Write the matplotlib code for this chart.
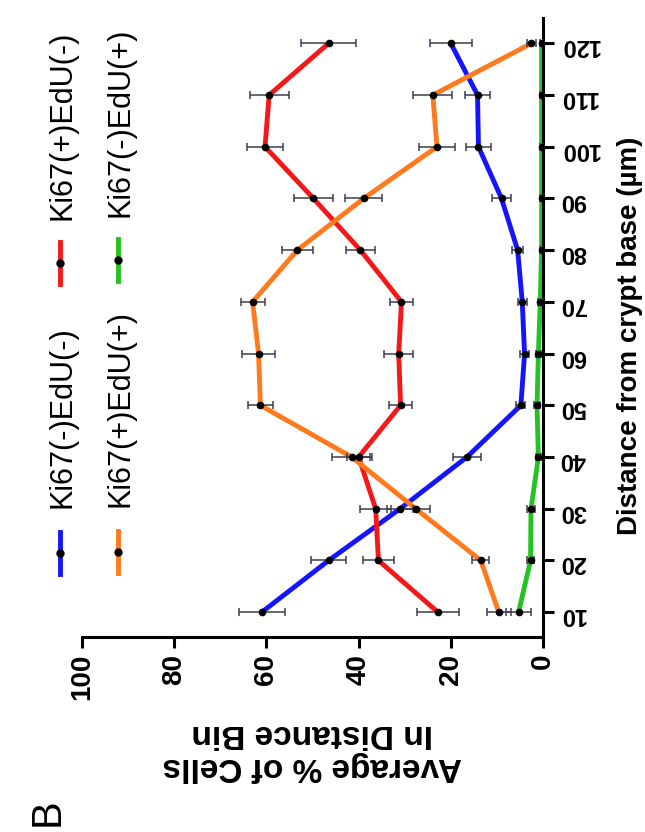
import numpy as np
import matplotlib
matplotlib.use("Agg")
import matplotlib.pyplot as plt

plt.rcParams['font.family'] = ['Liberation Sans', 'DejaVu Sans']

# distance bins (um) and average % of cells per bin
distance = [10, 20, 30, 40, 50, 60, 70, 80, 90, 100, 110, 120]

neg_neg = [61, 46.5, 31, 16.5, 4.8, 4, 4.5, 5.5, 9, 14, 14.2, 20]
pos_neg = [22.8, 35.7, 36.3, 40, 30.9, 31.3, 30.7, 39.6, 49.8, 60.3, 59.4, 46.5]
pos_pos = [9.6, 13.5, 27.6, 41.5, 61.3, 61.7, 63, 53.3, 38.9, 23, 23.9, 2.5]
neg_pos = [5.3, 2.7, 2.6, 1.0, 1.3, 1.0, 0.6, 0.3, 0.3, 0.3, 0.3, 0.3]

err_neg_neg = [5, 3.8, 2.9, 3.1, 1, 1, 1, 1.2, 2, 2.7, 2.7, 4.5]
err_pos_neg = [4.5, 3.4, 3.3, 2.5, 2.5, 3.1, 2.4, 3.1, 4.2, 4, 4.2, 6]
err_pos_pos = [2.6, 1.8, 3, 4.3, 2.7, 3.6, 2.6, 3.4, 4, 4, 4.2, 1]
err_neg_pos = [2.8, 0.8, 0.8, 0.6, 0.6, 0.5, 0.5, 0.4, 0.4, 0.4, 0.4, 0.4]

labels = ["Ki67(-)EdU(-)", "Ki67(+)EdU(-)", "Ki67(+)EdU(+)", "Ki67(-)EdU(+)"]
colors = ["#1414ff", "#f51818", "#ff7a1c", "#22c322"]

W, H = 645, 832
fig = plt.figure(figsize=(W / 100, H / 100), dpi=100)

# chart is drawn turned on its side: % runs right-to-left, distance upward
ax = fig.add_axes([82 / W, 1 - 637 / H, (543 - 82) / W, (637 - 18) / H])

series = [(neg_neg, err_neg_neg), (pos_neg, err_pos_neg),
          (pos_pos, err_pos_pos), (neg_pos, err_neg_pos)]
for (vals, errs), c in zip(series, colors):
    ax.plot(vals, distance, color=c, lw=3.5, solid_capstyle='round', zorder=2)
for (vals, errs), c in zip(series, colors):
    ax.errorbar(vals, distance, xerr=errs, fmt='o', color='k', ms=4.5,
                ecolor='#3c3c50', elinewidth=1.1, capsize=3, capthick=1.1,
                zorder=3)

ax.set_xlim(100, 0)
ax.set_ylim(5.2, 124.9)
ax.set_xticks([0, 20, 40, 60, 80, 100])
ax.set_yticks(distance)
ax.yaxis.tick_right()
for s in ['top', 'left']:
    ax.spines[s].set_visible(False)
for s in ['bottom', 'right']:
    ax.spines[s].set_linewidth(2.2)
ax.tick_params(axis='both', width=2.2, length=8, direction='out')
ax.tick_params(axis='x', labelsize=20, pad=4)
ax.tick_params(axis='y', labelsize=17, pad=4)
for t in ax.get_xticklabels():
    t.set_rotation(90)
    t.set_fontweight('bold')
for t in ax.get_yticklabels():
    t.set_rotation(180)
    t.set_fontweight('bold')

ax.set_xlabel("Average % of Cells\nIn Distance Bin", fontsize=24,
              fontweight='bold', rotation=180, va='center', ha='center',
              linespacing=1.1)
ax.xaxis.set_label_coords(0.5, (637 - 750) / 619)
ax.set_ylabel("Distance from crypt base (\u00b5m)", fontsize=20,
              fontweight='bold', rotation=90, va='center', ha='center')
ax.yaxis.set_label_position('right')
ax.yaxis.set_label_coords((617 - 82) / 461, (637 - 336) / 619)

# legend, turned like the rest of the chart
lg = fig.add_axes([0, 0, 1, 1])
lg.set_xlim(0, W)
lg.set_ylim(H, 0)
lg.axis('off')
leg_pos = [(60, 553, 508), (60, 263, 220), (118, 552, 507), (118, 260, 217)]
for (x, ym, yt), c, lab in zip(leg_pos, colors, labels):
    lg.plot([x, x], [ym - 21, ym + 21], color=c, lw=3.5)
    lg.plot([x], [ym], 'o', color='k', ms=5)
    lg.text(x + 2, yt, lab, rotation=90, fontsize=22, ha='center', va='bottom')

fig.text(48 / W, 1 - 812 / H, "B", rotation=90, fontsize=30,
         ha='center', va='center')

fig.savefig("out.png", dpi=100)
